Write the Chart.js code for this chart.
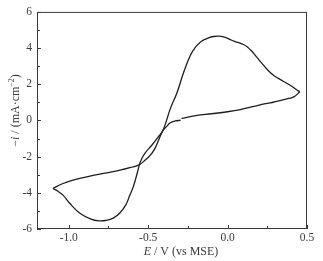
<!DOCTYPE html>
<html>
<head>
<meta charset="utf-8">
<script src="https://cdn.jsdelivr.net/npm/chart.js@4.4.0/dist/chart.umd.min.js"></script>
<style>
  html, body { margin: 0; padding: 0; background: #fff; }
  #wrap { width: 323px; height: 261px; }
</style>
</head>
<body>
<div id="wrap"><canvas id="cv"></canvas></div>
<script>
// Potencial (V vs MSE) y corriente (mA/cm2) por tramo del barrido
const fwdE = [-0.29, -0.2, -0.1, 0.0, 0.08, 0.166, 0.24, 0.293, 0.36, 0.42, 0.455];
const fwdI = [0.11, 0.27, 0.37, 0.48, 0.6, 0.78, 0.93, 1.02, 1.16, 1.32, 1.59];

const backE = [0.455, 0.43, 0.399, 0.35, 0.293, 0.26, 0.23, 0.2, 0.177, 0.15, 0.125, 0.1, 0.07, 0.04, 0.01, -0.02, -0.055, -0.09, -0.12, -0.15, -0.171, -0.2, -0.234, -0.277, -0.318, -0.361, -0.407, -0.44, -0.48, -0.515, -0.54, -0.555, -0.565, -0.578, -0.595, -0.615, -0.64, -0.677, -0.72, -0.77, -0.81, -0.86, -0.93, -0.994, -1.036, -1.07, -1.1];
const backI = [1.59, 1.72, 1.92, 2.17, 2.47, 2.72, 3.02, 3.32, 3.57, 3.85, 4.06, 4.2, 4.3, 4.38, 4.5, 4.6, 4.66, 4.64, 4.57, 4.45, 4.33, 4.08, 3.6, 2.65, 1.55, 0.64, -0.55, -0.95, -1.4, -1.75, -2.1, -2.44, -2.78, -3.2, -3.7, -4.12, -4.65, -5.1, -5.4, -5.53, -5.55, -5.45, -5.13, -4.58, -4.13, -3.9, -3.76];

const retE = [-1.1, -1.04, -0.973, -0.867, -0.761, -0.677, -0.61, -0.555, -0.52, -0.49, -0.46, -0.435, -0.407, -0.38, -0.361, -0.33, -0.296];
const retI = [-3.76, -3.5, -3.3, -3.08, -2.9, -2.75, -2.6, -2.44, -2.2, -1.95, -1.6, -1.1, -0.55, -0.3, -0.13, -0.03, 0.01];

const xTicks = [-1.0, -0.5, 0.0, 0.5];
const xMinor = [-0.75, -0.25, 0.25];
const yTicks = [-6, -4, -2, 0, 2, 4, 6];
const yMinor = [-5, -3, -1, 1, 3, 5];

const ink = "#3a3a3a";
const serif = "'Liberation Serif', 'DejaVu Serif', serif";

function pts(es, is) {
    return es.map((e, k) => ({ x: e, y: is[k] }));
}

function tramo(es, is) {
    return {
        data: pts(es, is),
        showLine: true,
        borderColor: "#1e1e1e",
        borderWidth: 1.3,
        pointRadius: 0,
        tension: 0.4,
        fill: false,
    };
}

// Marco, marcas hacia dentro y títulos con cursiva
const marco = {
    id: "marco",
    afterDraw(chart) {
        const { ctx, chartArea: a, scales } = chart;
        const x = scales.x, y = scales.y;
        ctx.save();
        ctx.strokeStyle = ink;
        ctx.lineWidth = 1;
        ctx.strokeRect(a.left + 0.5, a.top + 0.5, a.right - a.left - 1, a.bottom - a.top - 1);

        ctx.beginPath();
        xTicks.concat(xMinor).forEach(v => {
            const px = Math.round(x.getPixelForValue(v)) + 0.5;
            const len = xTicks.includes(v) ? 4 : 3;
            ctx.moveTo(px, a.bottom);
            ctx.lineTo(px, a.bottom - len);
        });
        yTicks.concat(yMinor).forEach(v => {
            const py = Math.round(y.getPixelForValue(v)) + 0.5;
            const len = yTicks.includes(v) ? 4 : 3;
            ctx.moveTo(a.left, py);
            ctx.lineTo(a.left + len, py);
        });
        ctx.stroke();

        ctx.fillStyle = ink;
        ctx.textBaseline = "alphabetic";

        // título eje x: "E / V (vs MSE)"
        const partsX = [["italic 12px " + serif, "E"], ["12px " + serif, " / V (vs MSE)"]];
        let w = 0;
        partsX.forEach(p => { ctx.font = p[0]; w += ctx.measureText(p[1]).width; });
        let cx = (a.left + a.right) / 2 + 9 - w / 2;
        partsX.forEach(p => {
            ctx.font = p[0];
            ctx.fillText(p[1], cx, 255);
            cx += ctx.measureText(p[1]).width;
        });

        // título eje y: "−i / (mA·cm⁻²)"
        ctx.translate(19, (a.top + a.bottom) / 2 - 10);
        ctx.rotate(-Math.PI / 2);
        const partsY = [
            ["12px " + serif, "\u2212", 0],
            ["italic 12px " + serif, "i", 0],
            ["12px " + serif, " / (mA\u00b7cm", 0],
            ["8px " + serif, "\u22122", -5],
            ["12px " + serif, ")", 0],
        ];
        w = 0;
        partsY.forEach(p => { ctx.font = p[0]; w += ctx.measureText(p[1]).width; });
        cx = -w / 2;
        partsY.forEach(p => {
            ctx.font = p[0];
            ctx.fillText(p[1], cx, p[2]);
            cx += ctx.measureText(p[1]).width;
        });
        ctx.restore();
    },
};

new Chart(document.getElementById("cv"), {
    type: "scatter",
    data: {
        datasets: [tramo(fwdE, fwdI), tramo(backE, backI), tramo(retE, retI)],
    },
    options: {
        responsive: true,
        maintainAspectRatio: false,
        animation: false,
        layout: { padding: { left: 0, right: 16, top: 11, bottom: 0 } },
        plugins: {
            legend: { display: false },
            tooltip: { enabled: false },
        },
        scales: {
            x: {
                type: "linear",
                min: -1.2,
                max: 0.5,
                afterBuildTicks: s => { s.ticks = xTicks.map(v => ({ value: v })); },
                afterFit: s => { s.height = 32; },
                grid: { display: false, drawTicks: false },
                border: { display: false },
                ticks: {
                    color: ink,
                    padding: 2,
                    maxRotation: 0,
                    font: { family: serif, size: 11.5 },
                    callback: v => v.toFixed(1),
                },
            },
            y: {
                type: "linear",
                min: -6,
                max: 6,
                afterBuildTicks: s => { s.ticks = yTicks.map(v => ({ value: v })); },
                afterFit: s => { s.width = 37; },
                grid: { display: false, drawTicks: false },
                border: { display: false },
                ticks: {
                    color: ink,
                    padding: 5,
                    font: { family: serif, size: 11.5 },
                    callback: v => String(v),
                },
            },
        },
    },
    plugins: [marco],
});
</script>
</body>
</html>
